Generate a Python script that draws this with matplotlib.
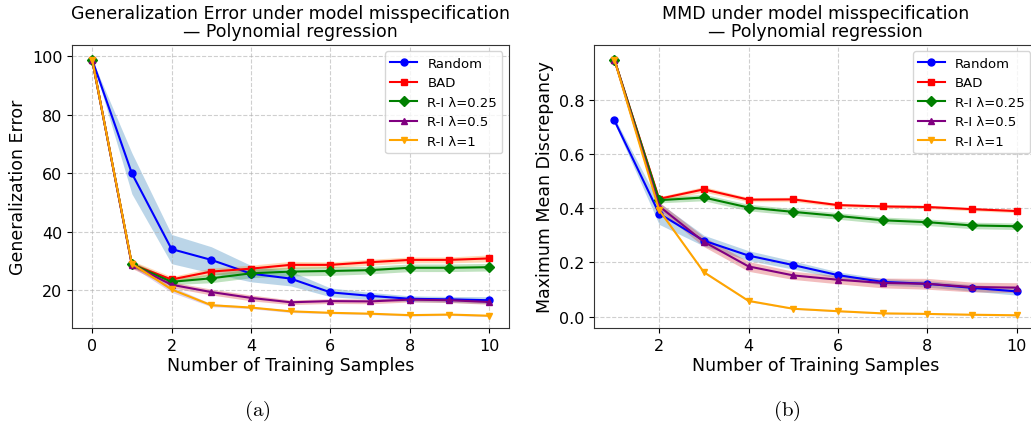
import numpy as np
import matplotlib
matplotlib.use("Agg")
import matplotlib.pyplot as plt

plt.rcParams['mathtext.fontset'] = 'cm'

# ---------------- data: left panel (Generalization Error) ----------------
x_left = [0, 1, 2, 3, 4, 5, 6, 7, 8, 9, 10]
ge_random = [98.9, 60.0, 34.1, 30.4, 25.7, 24.0, 19.3, 18.1, 17.1, 16.9, 16.6]
ge_random_sd = [0.0, 7.0, 5.0, 4.5, 2.8, 2.5, 1.5, 1.2, 1.0, 1.0, 1.2]
ge_bad = [98.9, 28.9, 23.7, 26.4, 27.4, 28.7, 28.7, 29.6, 30.4, 30.4, 30.9]
ge_bad_sd = [0.0, 1.2, 1.0, 1.2, 1.2, 1.2, 1.0, 1.0, 1.0, 1.0, 1.2]
ge_r025 = [98.9, 28.9, 22.9, 24.1, 25.8, 26.4, 26.6, 26.9, 27.7, 27.7, 27.9]
ge_r025_sd = [0.0, 1.0, 1.0, 1.5, 1.5, 1.5, 1.5, 1.3, 1.3, 1.3, 1.3]
ge_r05 = [98.9, 28.7, 21.9, 19.4, 17.4, 15.9, 16.3, 16.2, 16.8, 16.6, 16.0]
ge_r05_sd = [0.0, 1.2, 1.0, 1.0, 1.0, 0.8, 0.8, 0.8, 0.8, 0.8, 0.8]
ge_r1 = [98.9, 29.1, 20.3, 14.9, 14.1, 12.8, 12.3, 12.0, 11.5, 11.7, 11.3]
ge_r1_sd = [0.0, 1.0, 1.0, 0.5, 0.4, 0.4, 0.3, 0.3, 0.3, 0.3, 0.3]

# ---------------- data: right panel (MMD) ----------------
x_right = [1, 2, 3, 4, 5, 6, 7, 8, 9, 10]
mmd_random = [0.723, 0.380, 0.280, 0.225, 0.190, 0.153, 0.128, 0.121, 0.106, 0.093]
mmd_random_sd = [0.010, 0.040, 0.020, 0.018, 0.015, 0.012, 0.012, 0.012, 0.012, 0.014]
mmd_bad = [0.947, 0.434, 0.469, 0.431, 0.432, 0.411, 0.406, 0.404, 0.396, 0.389]
mmd_bad_sd = [0.005, 0.008, 0.010, 0.008, 0.008, 0.006, 0.006, 0.006, 0.006, 0.006]
mmd_r025 = [0.947, 0.429, 0.439, 0.402, 0.386, 0.371, 0.355, 0.348, 0.336, 0.333]
mmd_r025_sd = [0.005, 0.010, 0.012, 0.012, 0.012, 0.012, 0.012, 0.012, 0.012, 0.012]
mmd_r05 = [0.947, 0.407, 0.276, 0.185, 0.152, 0.136, 0.124, 0.121, 0.109, 0.107]
mmd_r05_sd = [0.005, 0.015, 0.018, 0.018, 0.015, 0.015, 0.018, 0.020, 0.018, 0.018]
mmd_r1 = [0.947, 0.393, 0.164, 0.058, 0.029, 0.020, 0.012, 0.010, 0.007, 0.005]
mmd_r1_sd = [0.005, 0.005, 0.004, 0.003, 0.002, 0.002, 0.002, 0.002, 0.002, 0.002]

labels = ['Random', 'BAD', 'R-I λ=0.25', 'R-I λ=0.5', 'R-I λ=1']
line_colors = ['blue', 'red', 'green', 'purple', 'orange']
fill_colors = ['tab:blue', 'tab:orange', 'tab:green', 'tab:red', 'tab:purple']
markers = ['o', 's', 'D', '^', 'v']

fig = plt.figure(figsize=(10.31, 4.27), dpi=100)
W, H = 1031, 427
ax1 = fig.add_axes([72.3 / W, 1 - 329.3 / H, (509 - 72.3) / W, (329.3 - 45.7) / H])
ax2 = fig.add_axes([594.3 / W, 1 - 329.3 / H, (1036.8 - 594.3) / W, (329.3 - 45.7) / H])


def draw(ax, x, series, sds):
    x = np.array(x)
    for m, s, lab, lc, fc, mk in zip(series, sds, labels, line_colors, fill_colors, markers):
        m = np.array(m)
        s = np.array(s)
        ax.plot(x, m, color=lc, marker=mk, markersize=5, linewidth=1.5, label=lab)
        ax.fill_between(x, m - s, m + s, color=fc, alpha=0.3, linewidth=0)
    ax.grid(True, linestyle='--', color='#b0b0b0', alpha=0.6, linewidth=0.8)
    ax.legend(loc='upper right', fontsize=9.5)
    ax.tick_params(labelsize=11.5)
    ax.set_xlabel('Number of Training Samples', fontsize=12.5, labelpad=2)
    for sp in ax.spines.values():
        sp.set_color('#333333')


draw(ax1, x_left, [ge_random, ge_bad, ge_r025, ge_r05, ge_r1],
     [ge_random_sd, ge_bad_sd, ge_r025_sd, ge_r05_sd, ge_r1_sd])
draw(ax2, x_right, [mmd_random, mmd_bad, mmd_r025, mmd_r05, mmd_r1],
     [mmd_random_sd, mmd_bad_sd, mmd_r025_sd, mmd_r05_sd, mmd_r1_sd])

ax1.set_xlim(-0.5, 10.5)
ax1.set_ylim(7.0, 104.0)
ax1.set_xticks([0, 2, 4, 6, 8, 10])
ax1.set_yticks([20, 40, 60, 80, 100])
ax1.set_ylabel('Generalization Error', fontsize=12.5)
ax1.set_title('Generalization Error under model misspecification\n— Polynomial regression',
              fontsize=12.5, pad=6, linespacing=1.0)

ax2.set_xlim(0.55, 10.45)
ax2.set_ylim(-0.043, 1.002)
ax2.set_xticks([2, 4, 6, 8, 10])
ax2.set_yticks([0.0, 0.2, 0.4, 0.6, 0.8])
ax2.set_ylabel('Maximum Mean Discrepancy', fontsize=12.5)
ax2.set_title('MMD under model misspecification\n— Polynomial regression',
              fontsize=12.5, pad=6, linespacing=1.0)

fig.text(257 / W, 1 - 411 / H, r'$\mathrm{(a)}$', fontsize=15, ha='center', va='center')
fig.text(787 / W, 1 - 411 / H, r'$\mathrm{(b)}$', fontsize=15, ha='center', va='center')

fig.savefig('out.png', dpi=100)
